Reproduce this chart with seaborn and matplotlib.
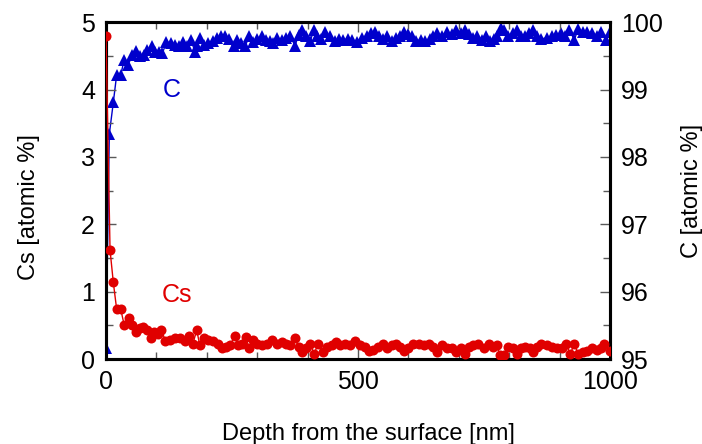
import matplotlib
matplotlib.use("Agg")
import matplotlib.pyplot as plt
from matplotlib.ticker import MultipleLocator
import seaborn as sns
import numpy as np
import pandas as pd

# ---- data ----
cs_depth = [0, 8, 14.5, 21, 29, 36, 46, 52, 60, 67, 74, 82, 89, 96, 104, 110, 118, 127, 137, 147,
            157, 165, 172, 180, 186, 194, 203, 213, 223, 231, 239, 247, 255, 262, 269, 277, 284, 291,
            299, 309, 319, 329, 339, 349, 358, 366, 375, 382, 388, 397, 405, 413, 421, 430, 438, 448,
            456, 464, 474, 484, 494, 504, 514, 522, 530, 540, 549, 557, 567, 575, 583, 591, 600, 610,
            620, 630, 640, 649, 657, 666, 676, 686, 694, 704, 712, 721, 729, 739, 749, 759, 767, 775,
            782, 790, 798, 807, 815, 823, 831, 841, 848, 856, 864, 874, 884, 894, 904, 913, 921, 929,
            937, 946, 955, 964, 974, 983, 989, 999]
cs_values = [4.80, 1.62, 1.14, 0.75, 0.75, 0.51, 0.61, 0.51, 0.40, 0.46, 0.48, 0.43, 0.32, 0.41, 0.37,
             0.43, 0.27, 0.28, 0.31, 0.31, 0.27, 0.35, 0.22, 0.43, 0.21, 0.32, 0.28, 0.27, 0.22, 0.16,
             0.18, 0.21, 0.35, 0.21, 0.23, 0.33, 0.17, 0.28, 0.23, 0.21, 0.23, 0.28, 0.23, 0.25, 0.22,
             0.21, 0.31, 0.18, 0.10, 0.16, 0.22, 0.08, 0.23, 0.11, 0.18, 0.21, 0.26, 0.21, 0.23, 0.21,
             0.27, 0.21, 0.18, 0.12, 0.13, 0.18, 0.23, 0.16, 0.21, 0.22, 0.18, 0.12, 0.16, 0.23, 0.23,
             0.21, 0.23, 0.18, 0.11, 0.21, 0.17, 0.16, 0.11, 0.16, 0.07, 0.18, 0.21, 0.23, 0.16, 0.23,
             0.18, 0.21, 0.06, 0.06, 0.18, 0.16, 0.08, 0.17, 0.18, 0.16, 0.10, 0.18, 0.23, 0.21, 0.18,
             0.16, 0.16, 0.23, 0.07, 0.23, 0.07, 0.11, 0.12, 0.16, 0.13, 0.16, 0.22, 0.12]

c_depth = [0, 6.6, 14.5, 21, 29, 36, 44, 52, 60, 67, 75, 82, 91, 97, 106, 112, 120, 128, 137, 145,
           153, 161, 168, 177, 181, 186, 194, 203, 212, 220, 228, 236, 245, 253, 259, 267, 276, 284,
           292, 300, 309, 317, 325, 332, 340, 349, 358, 366, 375, 382, 388, 397, 405, 413, 419, 426,
           434, 444, 454, 463, 471, 481, 489, 497, 507, 517, 525, 534, 542, 550, 558, 567, 575, 583,
           591, 600, 608, 616, 624, 633, 642, 649, 657, 666, 676, 686, 694, 704, 712, 721, 729, 737,
           745, 754, 762, 770, 776, 783, 790, 798, 807, 815, 823, 831, 840, 848, 856, 864, 874, 884,
           893, 902, 911, 919, 929, 937, 946, 955, 964, 974, 983, 992, 999]
c_values = [95.16, 98.34, 98.81, 99.21, 99.21, 99.44, 99.37, 99.51, 99.57, 99.50, 99.52, 99.59, 99.64,
            99.56, 99.56, 99.54, 99.71, 99.69, 99.66, 99.65, 99.71, 99.64, 99.74, 99.56, 99.64, 99.76,
            99.66, 99.69, 99.72, 99.76, 99.80, 99.79, 99.75, 99.64, 99.74, 99.69, 99.64, 99.79, 99.71,
            99.75, 99.79, 99.74, 99.72, 99.69, 99.76, 99.74, 99.77, 99.79, 99.65, 99.81, 99.89, 99.80,
            99.72, 99.89, 99.80, 99.75, 99.85, 99.80, 99.72, 99.75, 99.74, 99.75, 99.74, 99.71, 99.76,
            99.80, 99.84, 99.86, 99.80, 99.75, 99.79, 99.72, 99.77, 99.80, 99.85, 99.82, 99.79, 99.72,
            99.74, 99.72, 99.75, 99.80, 99.84, 99.80, 99.85, 99.82, 99.89, 99.84, 99.89, 99.82, 99.76,
            99.80, 99.74, 99.80, 99.72, 99.75, 99.80, 99.92, 99.89, 99.79, 99.84, 99.89, 99.80, 99.80,
            99.84, 99.88, 99.80, 99.75, 99.77, 99.79, 99.81, 99.84, 99.80, 99.89, 99.74, 99.90, 99.86,
            99.85, 99.84, 99.80, 99.85, 99.74, 99.85]

x_ticks = [0, 500, 1000]
left_ticks = [0, 1, 2, 3, 4, 5]
right_ticks = [95, 96, 97, 98, 99, 100]

cs_df = pd.DataFrame({"depth": cs_depth, "value": cs_values})
c_df = pd.DataFrame({"depth": c_depth, "value": c_values})

# ---- style ----
sns.set_style("ticks")
plt.rcParams["font.family"] = ["Liberation Sans", "DejaVu Sans"]

RED = "#e00000"
BLUE = "#0000cc"

fig = plt.figure(figsize=(7.02, 4.44), dpi=100)
ax = fig.add_axes([0.151, 0.191, 0.718, 0.759])
ax2 = ax.twinx()

sns.lineplot(data=cs_df, x="depth", y="value", ax=ax, color=RED, marker="o",
             markersize=7.2, markeredgewidth=0, linewidth=1.0, sort=False, zorder=3)
sns.lineplot(data=c_df, x="depth", y="value", ax=ax2, color=BLUE, marker="^",
             markersize=8, markeredgewidth=0, linewidth=1.0, sort=False, zorder=3)

ax.set_xlim(0, 1000)
ax.set_ylim(0, 5)
ax2.set_ylim(95, 100)

ax.set_xticks(x_ticks)
ax.set_yticks(left_ticks)
ax2.set_yticks(right_ticks)
ax.xaxis.set_minor_locator(MultipleLocator(100))
ax.yaxis.set_minor_locator(MultipleLocator(0.5))
ax2.yaxis.set_minor_locator(MultipleLocator(0.5))

for a in (ax, ax2):
    for s in a.spines.values():
        s.set_visible(True)
        s.set_linewidth(2.2)
        s.set_color("black")
    a.tick_params(which="both", direction="in", color="0.35", width=1.0, labelsize=18,
                  labelcolor="black", pad=8)
    a.tick_params(which="major", length=7)
    a.tick_params(which="minor", length=5)

ax.tick_params(axis="x", which="both", top=True, bottom=True)
ax.tick_params(axis="y", which="both", left=True, right=False)
ax2.tick_params(axis="y", which="both", left=False, right=True)

ax.set_xlabel("Depth from the surface [nm]", fontsize=17, color="black")
ax.set_ylabel("Cs [atomic %]", fontsize=17, color="black")
ax2.set_ylabel("C [atomic %]", fontsize=17, color="black", labelpad=13)
ax.xaxis.set_label_coords(0.52, -0.19)
ax.yaxis.set_label_coords(-0.131, 0.45)

ax.text(0.13, 0.80, "C", transform=ax.transAxes, color=BLUE, fontsize=18,
        ha="center", va="center")
ax.text(0.14, 0.19, "Cs", transform=ax.transAxes, color=RED, fontsize=18,
        ha="center", va="center")

ax.set_zorder(ax2.get_zorder() + 1)
ax.patch.set_visible(False)

fig.savefig("out.png", dpi=100)
